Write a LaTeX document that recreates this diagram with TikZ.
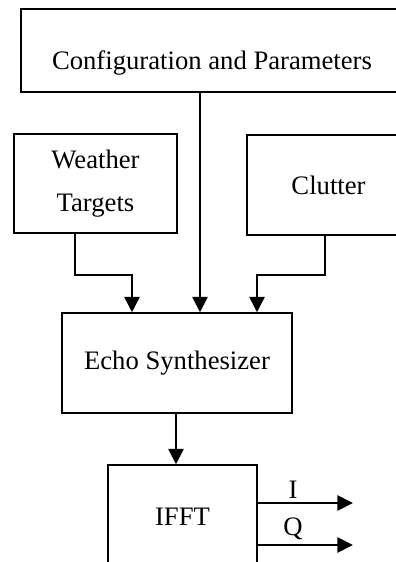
\documentclass[tikz,border=0pt]{standalone}
\usepackage{fontspec}
\setmainfont{Liberation Serif}
\usetikzlibrary{arrows.meta,positioning,calc}
\definecolor{Ink}{HTML}{000000}
\newcommand{\boxfont}{\fontsize{20}{32}\selectfont}
\tikzset{
  block/.style={draw=Ink,line width=1.2pt,fill=white,align=center,inner sep=0pt,font=\boxfont,text=Ink},
  arrow/.style={-{Triangle[length=11.5pt,width=11.5pt]},line width=1.2pt,draw=Ink},
  sigLabel/.style={font=\boxfont,text=Ink,inner sep=2pt}
}

\begin{document}
\begin{tikzpicture}[x=0.75pt,y=-0.75pt]
\useasboundingbox (0,0) rectangle (396,562);
\clip (0,0) rectangle (396,562);
% blocks
\node[block,minimum width=286.5pt,minimum height=62.25pt,
  label={[font=\boxfont,yshift=-9pt]center:Configuration and Parameters}] (config) at (212,50.5) {};
\node[block,minimum width=122.25pt,minimum height=74.25pt] (weather) at (95.5,183.5) {Weather\\Targets};
\node[block,minimum width=122.25pt,minimum height=75pt] (clutter) at (328.5,185) {Clutter};
\node[block,minimum width=172.5pt,minimum height=75pt] (echo) at (177,363) {Echo Synthesizer};
\node[block,minimum width=111.75pt,minimum height=78pt] (ifft) at (182.5,517) {IFFT};
% connectors
\coordinate (cfgout) at ($(config.south)+(-12,0)$);
\draw[arrow] (cfgout) -- (cfgout |- echo.north);
\coordinate (wout) at ($(weather.south)+(-20.5,0)$);
\coordinate (win) at ($(echo.north)+(-45,0)$);
\draw[arrow] (wout) -- ++(0,41) -| (win);
\coordinate (cout) at ($(clutter.south)+(-3.5,0)$);
\coordinate (cin) at ($(echo.north)+(80,0)$);
\draw[arrow] (cout) -- ++(0,39) -| (cin);
\coordinate (eout) at ($(echo.south)+(-1,0)$);
\draw[arrow] (eout) -- (eout |- ifft.north);
% outputs
\draw[arrow] ($(ifft.east)+(0,-14)$) -- ++(95,0) node[sigLabel,pos=0.37,above=1pt] (ilabel) {I};
\draw[arrow] ($(ifft.east)+(0,28)$) -- ++(95,0) node[sigLabel,pos=0.37,above=1pt] (qlabel) {Q};
\end{tikzpicture}
\end{document}
